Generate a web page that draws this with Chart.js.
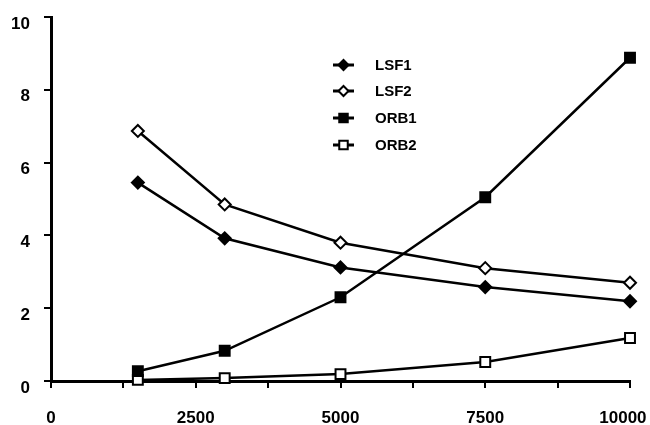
<!DOCTYPE html>
<html>
<head>
<meta charset="utf-8">
<script src="https://cdn.jsdelivr.net/npm/chart.js"></script>
<style>
  html, body { margin: 0; padding: 0; background: #fff; }
  #wrap { width: 650px; height: 425px; }
</style>
</head>
<body>
<div id="wrap"><canvas id="myChart" width="650" height="425"></canvas></div>
<script>
// 데이터
const xValues = [1500, 3000, 5000, 7500, 10000];
const lsf1 = [5.45, 3.92, 3.12, 2.58, 2.19];
const lsf2 = [6.87, 4.85, 3.8, 3.1, 2.7];
const orb1 = [0.27, 0.83, 2.3, 5.05, 8.88];
const orb2 = [0.03, 0.08, 0.19, 0.52, 1.18];
const seriesLabels = ['LSF1', 'LSF2', 'ORB1', 'ORB2'];
const xTicks = [0, 2500, 5000, 7500, 10000];
const yTicks = [0, 2, 4, 6, 8, 10];

const FONT = "'Liberation Sans', Arial, sans-serif";

const toPoints = (vals) => xValues.map((x, i) => ({ x: x, y: vals[i] }));

// 시리즈별 스타일
const styles = [
    { pointStyle: 'rectRot', fill: '#000', radius: 6 },
    { pointStyle: 'rectRot', fill: '#fff', radius: 6 },
    { pointStyle: 'rect', fill: '#000', radius: 7 },
    { pointStyle: 'rect', fill: '#fff', radius: 7 },
];

const datasets = [lsf1, lsf2, orb1, orb2].map((vals, i) => ({
    label: seriesLabels[i],
    data: toPoints(vals),
    borderColor: '#000',
    borderWidth: 2.5,
    backgroundColor: styles[i].fill,
    pointStyle: styles[i].pointStyle,
    pointRadius: styles[i].radius,
    pointBorderWidth: 2,
    pointBorderColor: '#000',
    pointBackgroundColor: styles[i].fill,
    tension: 0,
    clip: false,
}));

// 차트 안쪽 범례
const innerLegend = {
    id: 'innerLegend',
    afterDraw(chart) {
        const ctx = chart.ctx;
        const x0 = 333, x1 = 354, tx = 375;
        const rows = [65, 91, 118, 145];
        ctx.save();
        chart.data.datasets.forEach((ds, i) => {
            const y = rows[i];
            ctx.strokeStyle = '#000';
            ctx.lineWidth = 3;
            ctx.beginPath();
            ctx.moveTo(x0, y);
            ctx.lineTo(x1, y);
            ctx.stroke();
            ctx.fillStyle = ds.pointBackgroundColor;
            ctx.lineWidth = 2;
            Chart.helpers.drawPoint(ctx, {
                pointStyle: ds.pointStyle,
                radius: ds.pointRadius - 1,
                borderWidth: 2,
                rotation: 0,
            }, (x0 + x1) / 2, y);
            ctx.fillStyle = '#000';
            ctx.font = 'bold 15px ' + FONT;
            ctx.textBaseline = 'middle';
            ctx.textAlign = 'left';
            ctx.fillText(ds.label, tx, y + 1);
        });
        ctx.restore();
    }
};

new Chart(document.getElementById('myChart'), {
    type: 'line',
    data: { datasets: datasets },
    options: {
        responsive: false,
        animation: false,
        layout: { padding: { top: 17, right: 20, left: 0, bottom: 0 } },
        plugins: {
            legend: { display: false },
            tooltip: { enabled: false },
        },
        scales: {
            x: {
                type: 'linear',
                min: 0,
                max: 10000,
                afterBuildTicks: (scale) => {
                    const t = [];
                    for (let v = 0; v <= 10000; v += 1250) t.push({ value: v });
                    scale.ticks = t;
                },
                afterFit: (scale) => {
                    scale.height = 44;
                    scale.paddingLeft = 0;
                    scale.paddingRight = 0;
                },
                ticks: {
                    autoSkip: false,
                    maxRotation: 0,
                    padding: 20,
                    color: '#000',
                    font: { family: FONT, size: 17, weight: 'bold' },
                    // 마지막 라벨은 원본처럼 살짝 왼쪽으로
                    callback: (v) => (xTicks.includes(v) ? (v === 10000 ? '10000   ' : String(v)) : ''),
                },
                grid: {
                    display: true,
                    drawOnChartArea: false,
                    drawTicks: true,
                    tickLength: 7,
                    color: '#000',
                    lineWidth: 2,
                },
                border: { display: true, color: '#000', width: 3 },
            },
            y: {
                min: 0,
                max: 10,
                afterBuildTicks: (scale) => {
                    scale.ticks = yTicks.map((v) => ({ value: v }));
                },
                afterFit: (scale) => {
                    scale.width = 51;
                    scale.paddingTop = 0;
                    scale.paddingBottom = 0;
                },
                ticks: {
                    padding: 14,
                    labelOffset: 7,
                    color: '#000',
                    font: { family: FONT, size: 17, weight: 'bold' },
                },
                grid: {
                    display: true,
                    drawOnChartArea: false,
                    drawTicks: true,
                    tickLength: 7,
                    color: '#000',
                    lineWidth: 2,
                },
                border: { display: true, color: '#000', width: 3 },
            },
        },
    },
    plugins: [innerLegend],
});
</script>
</body>
</html>
